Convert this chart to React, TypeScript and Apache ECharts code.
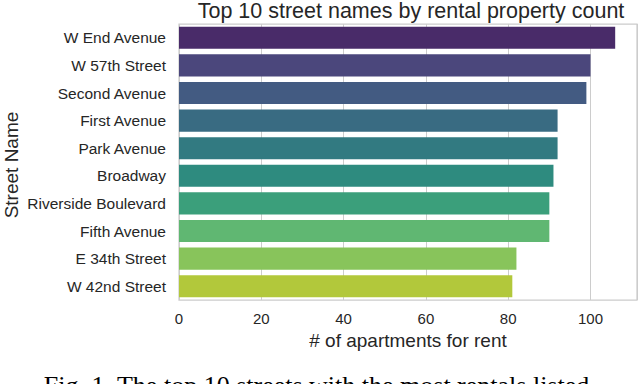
import React, { useEffect, useRef } from "react";
import * as echarts from "echarts";

const streets = [
  "W End Avenue",
  "W 57th Street",
  "Second Avenue",
  "First Avenue",
  "Park Avenue",
  "Broadway",
  "Riverside Boulevard",
  "Fifth Avenue",
  "E 34th Street",
  "W 42nd Street",
];
const counts = [106, 100, 99, 92, 92, 91, 90, 90, 82, 81];
const barColors = [
  "#492b69",
  "#4b477c",
  "#435b82",
  "#396b82",
  "#327a81",
  "#2e8b7f",
  "#3b9f7b",
  "#60b772",
  "#88c45b",
  "#b2c83b",
];
const titleText = "Top 10 street names by rental property count";
const xName = "# of apartments for rent";
const yName = "Street Name";
const captionText = "Fig. 1. The top 10 streets with the most rentals listed";

export default function App() {
  const ref = useRef<HTMLDivElement>(null);
  useEffect(() => {
    if (!ref.current) return;
    const chart = echarts.init(ref.current, undefined, { renderer: "svg" });
    const font = "'Liberation Sans', Arial, Helvetica, sans-serif";
    const textColor = "#262626";
    chart.setOption({
      animation: false,
      backgroundColor: "#ffffff",
      title: {
        text: titleText,
        left: 411,
        top: 0,
        padding: 0,
        textAlign: "center",
        textStyle: {
          fontFamily: font,
          fontSize: 21.5,
          fontWeight: "normal",
          color: textColor,
        },
      },
      grid: {
        left: 179,
        top: 24,
        width: 458,
        height: 276,
        show: true,
        borderColor: "#cccccc",
        borderWidth: 1.25,
        containLabel: false,
        outerBoundsMode: "none",
      },
      xAxis: {
        type: "value",
        min: 0,
        max: 111.3,
        interval: 20,
        name: xName,
        nameLocation: "middle",
        nameGap: 31,
        nameTextStyle: { fontFamily: font, fontSize: 19, color: textColor },
        axisLine: { show: false },
        axisTick: { show: false },
        axisLabel: {
          fontFamily: font,
          fontSize: 15,
          color: textColor,
          margin: 11,
          showMaxLabel: false,
          formatter: (v: number) => (v % 20 === 0 ? String(v) : ""),
        },
        splitLine: { show: true, lineStyle: { color: "#cccccc", width: 1 } },
      },
      yAxis: {
        type: "category",
        data: streets,
        inverse: true,
        axisLine: { show: false },
        axisTick: { show: false },
        axisLabel: {
          fontFamily: font,
          fontSize: 15.5,
          color: textColor,
          margin: 13,
        },
        splitLine: { show: false },
      },
      series: [
        {
          type: "bar",
          barCategoryGap: "20%",
          data: counts.map((v, i) => ({
            value: v,
            itemStyle: { color: barColors[i] },
          })),
        },
      ],
      graphic: [
        {
          type: "text",
          x: 11,
          y: 165,
          rotation: Math.PI / 2,
          style: {
            text: yName,
            fontFamily: font,
            fontSize: 19,
            fill: textColor,
            textAlign: "center",
            textVerticalAlign: "middle",
          },
        },
        {
          type: "text",
          x: 316.5,
          y: 385,
          style: {
            text: captionText,
            fontFamily: "'Liberation Serif', 'Times New Roman', serif",
            fontSize: 26,
            fill: "#000000",
            textAlign: "center",
            textVerticalAlign: "middle",
          },
        },
      ],
    });
    return () => chart.dispose();
  }, []);
  return (
    <div
      ref={ref}
      style={{ position: "fixed", left: 0, top: 0, width: 638, height: 384 }}
    />
  );
}
